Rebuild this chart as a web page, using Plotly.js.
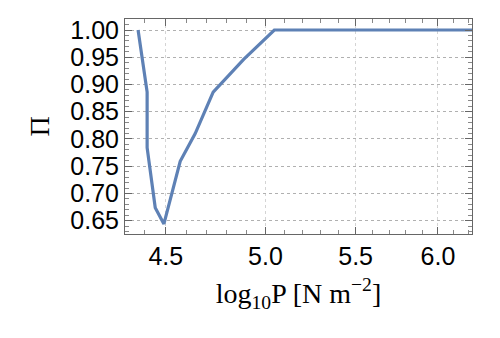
<!DOCTYPE html>
<html>
<head>
<meta charset="utf-8">
<script src="https://cdn.plot.ly/plotly-3.0.1.min.js"></script>
<style>html,body{margin:0;padding:0;background:#fff;}#chart{width:500px;height:338px;}</style>
</head>
<body>
<div id="chart"></div>
<script>
// Data
var log10P = [4.370, 4.412, 4.412, 4.450, 4.491, 4.569, 4.642, 4.731, 4.886, 5.047, 6.30];
var piValues = [1.000, 0.886, 0.784, 0.674, 0.644, 0.759, 0.810, 0.886, 0.946, 1.000, 1.000];
var xTickVals = [4.5, 5.0, 5.5, 6.0];
var xTickText = ['4.5', '5.0', '5.5', '6.0'];
var xMinorVals = [4.4, 4.6, 4.7, 4.8, 4.9, 5.1, 5.2, 5.3, 5.4, 5.6, 5.7, 5.8, 5.9, 6.1, 6.2];
var yTickVals = [0.65, 0.70, 0.75, 0.80, 0.85, 0.90, 0.95, 1.00];
var yTickText = ['0.65', '0.70', '0.75', '0.80', '0.85', '0.90', '0.95', '1.00'];
var yMinorVals = [];
for (var k = 62; k <= 102; k++) { if (k % 5 !== 0) yMinorVals.push(k / 100); }

var trace = {
  x: log10P, y: piValues, type: 'scatter', mode: 'lines',
  line: {color: '#5E81B5', width: 3.2}, hoverinfo: 'skip'
};

var layout = {
  width: 500, height: 338,
  margin: {l: 125, r: 28, t: 19, b: 104},
  paper_bgcolor: '#fff', plot_bgcolor: '#fff',
  showlegend: false,
  font: {family: 'Liberation Sans, Arial, sans-serif', color: '#000'},
  xaxis: {
    type: 'log',
    range: [Math.log10(4.31), Math.log10(6.22)],
    tickmode: 'array', tickvals: xTickVals, ticktext: xTickText,
    tickfont: {size: 25, family: 'Liberation Sans, Arial, sans-serif', color: '#000'},
    ticks: 'inside', ticklen: 7, tickcolor: '#666', tickwidth: 1,
    minor: {tickmode: 'array', tickvals: xMinorVals, ticks: 'inside', ticklen: 4, tickcolor: '#888', showgrid: false},
    showline: true, linecolor: '#666', linewidth: 1, mirror: 'allticks',
    showgrid: true, gridcolor: '#d4d4d4', griddash: 'dot', gridwidth: 1,
    zeroline: false, fixedrange: true,
    title: {text: 'log<sub>10</sub>P [N m<sup>\u22122</sup>]', font: {family: 'Liberation Serif, Times New Roman, serif', size: 28, color: '#000'}, standoff: 14},
    automargin: false
  },
  yaxis: {
    range: [0.6256, 1.0202],
    tickmode: 'array', tickvals: yTickVals, ticktext: yTickText,
    tickfont: {size: 25, family: 'Liberation Sans, Arial, sans-serif', color: '#000'},
    ticks: 'inside', ticklen: 7, tickcolor: '#666', tickwidth: 1,
    minor: {tickmode: 'array', tickvals: yMinorVals, ticks: 'inside', ticklen: 4, tickcolor: '#888', showgrid: false},
    showline: true, linecolor: '#666', linewidth: 1, mirror: 'allticks',
    showgrid: true, gridcolor: '#b0b0b0', griddash: 'dot', gridwidth: 1,
    zeroline: false, fixedrange: true,
    title: {text: '\u03a0', font: {family: 'Liberation Serif, Times New Roman, serif', size: 28, color: '#000'}, standoff: 12},
    automargin: false
  }
};

Plotly.newPlot('chart', [trace], layout, {staticPlot: true, displayModeBar: false});
</script>
</body>
</html>
